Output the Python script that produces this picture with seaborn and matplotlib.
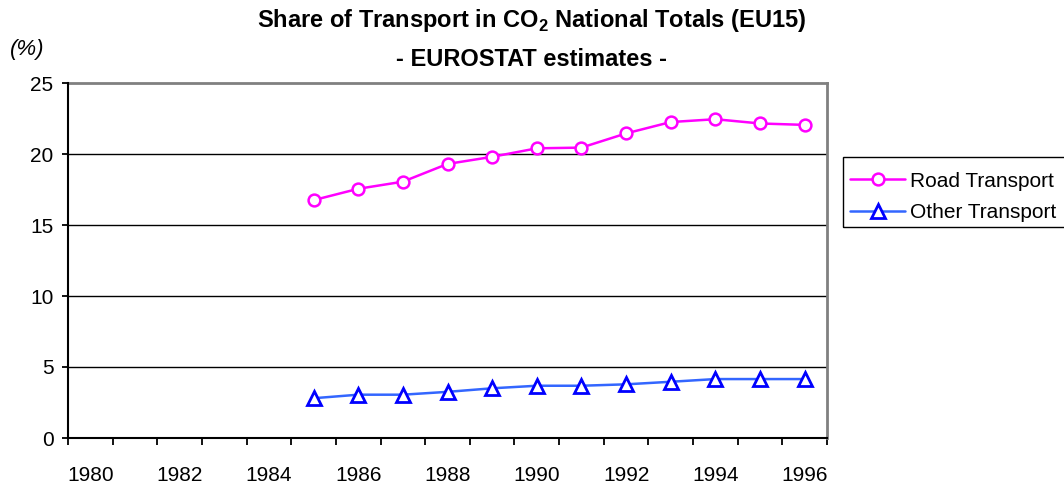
import numpy as np
import pandas as pd
import matplotlib
matplotlib.use("Agg")
import matplotlib.pyplot as plt
from matplotlib.patches import Rectangle
import seaborn as sns

years = list(range(1985, 1997))
road_transport = [16.75, 17.55, 18.05, 19.3, 19.8, 20.4, 20.45, 21.45, 22.25, 22.45, 22.15, 22.05]
other_transport = [2.8, 3.05, 3.05, 3.25, 3.5, 3.68, 3.68, 3.78, 3.96, 4.15, 4.15, 4.15]
category_years = list(range(1980, 1997))
labelled_years = list(range(1980, 1997, 2))
y_ticks = [0, 5, 10, 15, 20, 25]

sns.set_style("white")
plt.rcParams["font.family"] = ["Liberation Sans", "DejaVu Sans"]
plt.rcParams["mathtext.fontset"] = "custom"
plt.rcParams["mathtext.rm"] = "Liberation Sans"
plt.rcParams["mathtext.bf"] = "Liberation Sans:bold"
plt.rcParams["text.color"] = "black"
plt.rcParams["xtick.color"] = "black"
plt.rcParams["ytick.color"] = "black"
plt.rcParams["axes.labelcolor"] = "black"

df_road = pd.DataFrame({"Year": years, "Share": road_transport})
df_other = pd.DataFrame({"Year": years, "Share": other_transport})

fig = plt.figure(figsize=(10.64, 4.83), dpi=100)
W, H = 1064, 483
ax = fig.add_axes([68 / W, 1 - 438 / H, (827 - 68) / W, (438 - 83) / H])

sns.lineplot(data=df_road, x="Year", y="Share", ax=ax, color="#FF00FF", lw=1.8,
             marker="o", markersize=8.5, markeredgecolor="#FF00FF",
             markerfacecolor="white", markeredgewidth=1.8, label="Road Transport")
sns.lineplot(data=df_other, x="Year", y="Share", ax=ax, color="#3366FF", lw=1.8,
             marker="^", markersize=9.5, markeredgecolor="#0000FF",
             markerfacecolor="white", markeredgewidth=2, label="Other Transport")

ax.set_xlim(category_years[0] - 0.5, category_years[-1] + 0.5)
ax.set_ylim(0, 25)
ax.set_xticks([y - 0.5 for y in category_years] + [category_years[-1] + 0.5])
ax.set_xticklabels([])
ax.set_xticks(labelled_years, minor=True)
ax.set_xticklabels([str(y) for y in labelled_years], minor=True)
ax.tick_params(axis="x", which="major", direction="out", length=5, width=1.3, color="black", bottom=True)
ax.tick_params(axis="x", which="minor", length=0, pad=20, labelsize=15, labelcolor="black")
ax.set_yticks(y_ticks)
ax.tick_params(axis="y", direction="out", length=4, width=1.3, color="black", left=True,
               labelsize=15, pad=6.5, labelcolor="black")
ax.set_xlabel("")
ax.set_ylabel("")

for yv in y_ticks[1:-1]:
    ax.axhline(yv, color="black", lw=1, zorder=0.5)

for side in ["left", "bottom"]:
    ax.spines[side].set_color("black")
    ax.spines[side].set_linewidth(1.5)
for side in ["top", "right"]:
    ax.spines[side].set_color("#808080")
    ax.spines[side].set_linewidth(2)
ax.spines["left"].set_zorder(3)

fig.text(0.5, 1 - 21 / H, r"Share of Transport in CO$_\mathbf{2}$ National Totals (EU15)",
         ha="center", va="center", fontsize=17, fontweight="bold", color="black")
fig.text(0.5, 1 - 59.5 / H, "- EUROSTAT estimates -", ha="center", va="center",
         fontsize=17, fontweight="bold", color="black")
fig.text(10 / W, 1 - 49 / H, "(%)", ha="left", va="center", fontsize=16, style="italic", color="black")

ax.get_legend().remove()
handles, labels = ax.get_legend_handles_labels()
leg = fig.legend(handles, labels, loc="center left", bbox_to_anchor=(850 / W, 1 - 197 / H),
                 frameon=False, fontsize=15, labelcolor="black",
                 handlelength=2.64, handletextpad=0.24, borderpad=0, labelspacing=0.6,
                 borderaxespad=0)
fig.patches.append(Rectangle((843 / W, 1 - 227 / H), 240 / W, 70 / H, transform=fig.transFigure,
                             fill=False, edgecolor="black", lw=1))

fig.savefig("out.png", dpi=100)
